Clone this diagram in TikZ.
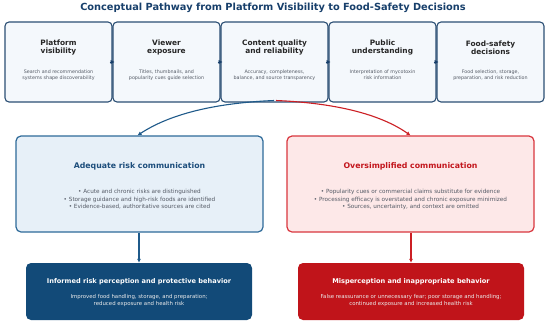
\documentclass[tikz,border=0pt]{standalone}
\usepackage{fontspec}
\setmainfont{DejaVu Sans}
\usetikzlibrary{arrows.meta}
\definecolor{titleblue}{HTML}{173F6B}
\definecolor{topborder}{HTML}{2B4F74}
\definecolor{topfill}{HTML}{F4F8FC}
\definecolor{topbody}{HTML}{555B66}
\definecolor{midblue}{HTML}{2E6A99}
\definecolor{midbluefill}{HTML}{E7F0F8}
\definecolor{midbluetext}{HTML}{1D4E7C}
\definecolor{midred}{HTML}{D9363E}
\definecolor{midredfill}{HTML}{FDE8E8}
\definecolor{midredtext}{HTML}{C3161D}
\definecolor{botblue}{HTML}{124A78}
\definecolor{botred}{HTML}{C0141A}
\definecolor{arrblue}{HTML}{1F5A8A}
\definecolor{arrred}{HTML}{CC1F24}
\begin{document}
\begin{tikzpicture}[x=1pt,y=-1pt,
  topbox/.style={draw=topborder, line width=1.1pt, fill=topfill, rounded corners=4pt, minimum width=107pt, minimum height=80pt, inner sep=0pt},
  toptitle/.style={font=\fontsize{7.4}{8}\selectfont\bfseries, text=black!85, align=center},
  topbody/.style={font=\fontsize{4.8}{6.2}\selectfont, text=topbody, align=center},
  midboxb/.style={draw=midblue, line width=1.2pt, fill=midbluefill, rounded corners=5pt, minimum width=247pt, minimum height=96pt, inner sep=0pt},
  midboxr/.style={draw=midred, line width=1.2pt, fill=midredfill, rounded corners=5pt, minimum width=247pt, minimum height=96pt, inner sep=0pt},
  midtitle/.style={font=\fontsize{7.8}{9}\selectfont\bfseries, align=center},
  bullets/.style={font=\fontsize{5.7}{7.4}\selectfont, text=topbody, align=center},
  botbox/.style={rounded corners=5pt, minimum width=226pt, minimum height=57pt, inner sep=0pt},
  bottitle/.style={font=\fontsize{6.6}{7}\selectfont\bfseries, text=white, align=center},
  botbody/.style={font=\fontsize{5.4}{7.2}\selectfont, text=white!92!black, align=center},
  flow/.style={-{Latex[length=4pt,width=4pt]}, line width=1.1pt},
]
\useasboundingbox[fill=white] (0,0) rectangle (550,325);

\node[font=\fontsize{9.8}{12}\selectfont\bfseries, text=titleblue] (title) at (273,8) {Conceptual Pathway from Platform Visibility to Food-Safety Decisions};

% top row
\node[topbox] (b1) at (58.5,62) {};
\node[topbox] (b2) at (166.5,62) {};
\node[topbox] (b3) at (274.5,62) {};
\node[topbox] (b4) at (382.5,62) {};
\node[topbox] (b5) at (490.5,62) {};

\node[toptitle] (t1) at (58.5,47.5) {Platform\\visibility};
\node[toptitle] (t2) at (166.5,47.5) {Viewer\\exposure};
\node[toptitle] (t3) at (274.5,47.5) {Content quality\\and reliability};
\node[toptitle] (t4) at (382.5,47.5) {Public\\understanding};
\node[toptitle] (t5) at (490.5,47.5) {Food-safety\\decisions};

\node[topbody] (d1) at (58.5,75) {Search and recommendation\\systems shape discoverability};
\node[topbody] (d2) at (166.5,75) {Titles, thumbnails, and\\popularity cues guide selection};
\node[topbody] (d3) at (274.5,75) {Accuracy, completeness,\\balance, and source transparency};
\node[topbody] (d4) at (382.5,75) {Interpretation of mycotoxin\\risk information};
\node[topbody] (d5) at (490.5,75) {Food selection, storage,\\preparation, and risk reduction};

\foreach \a/\b in {b1/b2,b2/b3,b3/b4,b4/b5}{
  \draw[-{Latex[length=4pt,width=4.5pt]}, color=titleblue, line width=0.8pt] ([xshift=-3pt]\a.east) -- ([xshift=2pt]\a.east);
}

% middle
\node[midboxb] (m1) at (139.5,184) {};
\node[midboxr] (m2) at (410.5,184) {};
\node[midtitle, text=midbluetext] (mt1) at (139.5,166) {Adequate risk communication};
\node[midtitle, text=midredtext] (mt2) at (410.5,166) {Oversimplified communication};
\node[bullets] (mb1) at (139.5,199.5) {• Acute and chronic risks are distinguished\\• Storage guidance and high-risk foods are identified\\• Evidence-based, authoritative sources are cited};
\node[bullets] (mb2) at (410.5,199.5) {• Popularity cues or commercial claims substitute for evidence\\• Processing efficacy is overstated and chronic exposure minimized\\• Sources, uncertainty, and context are omitted};

% curved arrows
\coordinate (sb) at (274,100.5);
\coordinate (sr) at (276,100.5);
\draw[flow, color=arrblue] (sb) .. controls (215,103) and (170,114) .. ([xshift=-2pt]m1.north);
\draw[flow, color=arrred] (sr) .. controls (335,103) and (380,114) .. ([xshift=0pt]m2.north);

% bottom
\node[botbox, fill=botblue] (o1) at (139,291.5) {};
\node[botbox, fill=botred] (o2) at (411,291.5) {};
\node[bottitle] (ot1) at (139,282) {Informed risk perception and protective behavior};
\node[bottitle] (ot2) at (411,282) {Misperception and inappropriate behavior};
\node[botbody] (ob1) at (139,300.5) {Improved food handling, storage, and preparation;\\reduced exposure and health risk};
\node[botbody] (ob2) at (411,300.5) {False reassurance or unnecessary fear; poor storage and handling;\\continued exposure and increased health risk};

\draw[flow, color=arrblue] (m1.south -| o1.north) -- (o1.north);
\draw[flow, color=arrred] (m2.south -| o2.north) -- (o2.north);
\end{tikzpicture}
\end{document}
